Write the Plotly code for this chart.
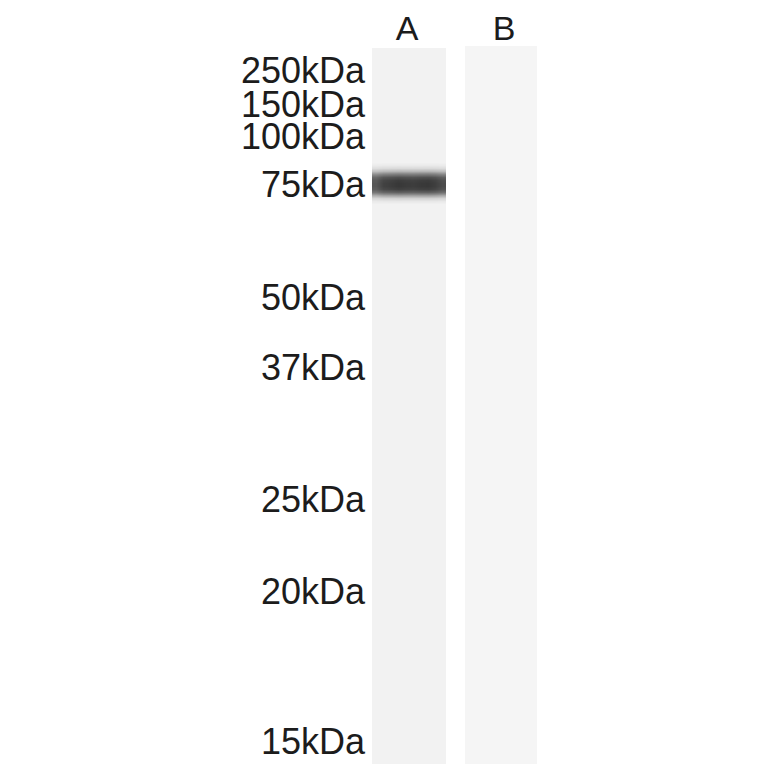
import plotly.graph_objects as go

# lanes: centre x, widths, segments (image pixel coords)
lane_names = ['A', 'B']
lane_label_x = [407, 504]
lane_label_y = [31, 31]
seg_x = [409, 409, 501]
seg_w = [74, 74, 72]
seg_top = [48, 206, 46]
seg_bottom = [160, 764, 764]
seg_colors = ['#f2f2f2', '#f2f2f2', '#f5f5f5']

# molecular weight markers and their migration position
marker_labels = ['250kDa', '150kDa', '100kDa', '75kDa', '50kDa',
                 '37kDa', '25kDa', '20kDa', '15kDa']
marker_pos = [74, 108, 140, 188, 301, 371, 503, 595, 745]

# band in lane A (intensity profile)
band_x = [375.7, 383.1, 390.5, 397.9, 405.3, 412.7, 420.1, 427.5, 434.9, 442.3]
band_x_profile = [0.82, 0.94, 0.97, 1.0, 0.98, 0.97, 0.99, 1.0, 0.96, 0.88]
band_y = [161.5, 164.5, 167.5, 170.5, 173.5, 176.5, 179.5, 182.5,
          185.5, 188.5, 191.5, 194.5, 197.5, 200.5, 203.5, 206.5]
band_y_profile = [0.0, 0.04, 0.12, 0.3, 0.6, 0.86, 0.97, 1.0,
                  1.0, 0.95, 0.76, 0.42, 0.16, 0.05, 0.0, 0.0]

z = [[a * b for a in band_x_profile] for b in band_y_profile]

fig = go.Figure()

fig.add_trace(go.Bar(
    x=seg_x,
    y=[b - t for t, b in zip(seg_top, seg_bottom)],
    base=seg_top,
    width=seg_w,
    marker=dict(color=seg_colors, line=dict(width=0)),
    showlegend=False,
    hoverinfo='skip'
))

fig.add_trace(go.Heatmap(
    x=band_x, y=band_y, z=z,
    zmin=0, zmax=1,
    zsmooth='best',
    colorscale=[[0, '#f2f2f2'], [0.5, '#8c8c8c'], [1, '#383838']],
    showscale=False,
    hoverinfo='skip'
))

fig.add_trace(go.Scatter(
    x=[365] * len(marker_labels),
    y=marker_pos,
    mode='text',
    text=marker_labels,
    textposition='middle left',
    textfont=dict(family='Liberation Sans, Arial', size=36, color='#1c1c1c'),
    showlegend=False
))

fig.add_trace(go.Scatter(
    x=lane_label_x,
    y=lane_label_y,
    mode='text',
    text=lane_names,
    textposition='middle center',
    textfont=dict(family='Liberation Sans, Arial', size=34, color='#1c1c1c'),
    showlegend=False
))

fig.update_layout(
    width=764, height=764,
    margin=dict(l=0, r=0, t=0, b=0),
    paper_bgcolor='white',
    plot_bgcolor='white',
    barmode='overlay',
    xaxis=dict(range=[0, 764], visible=False, fixedrange=True),
    yaxis=dict(range=[764, 0], visible=False, fixedrange=True),
)

fig.write_html("out.html", config={'displayModeBar': False},
               post_script="document.body.style.margin='0';")
